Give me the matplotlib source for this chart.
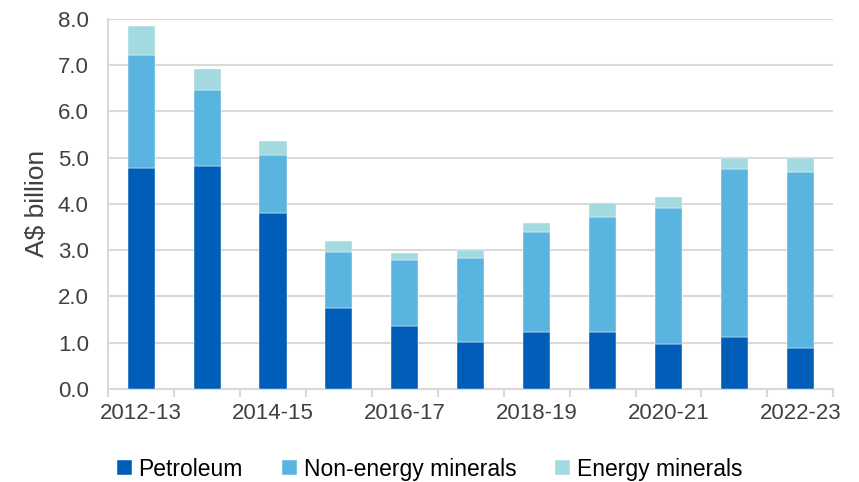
from matplotlib import pyplot as plt
import numpy as np

plt.rcParams['font.family'] = ['Liberation Sans', 'DejaVu Sans']

years = ['2012-13', '2013-14', '2014-15', '2015-16', '2016-17', '2017-18',
         '2018-19', '2019-20', '2020-21', '2021-22', '2022-23']
petroleum = [4.77, 4.82, 3.80, 1.75, 1.36, 1.01, 1.24, 1.24, 0.98, 1.13, 0.89]
non_energy = [2.45, 1.64, 1.25, 1.22, 1.43, 1.82, 2.16, 2.47, 2.93, 3.62, 3.79]
energy = [0.63, 0.45, 0.31, 0.23, 0.14, 0.17, 0.19, 0.31, 0.24, 0.25, 0.32]

c_pet = '#005EB8'
c_ne = '#5AB4E0'
c_en = '#A2DAE0'
txt = '#404040'
grid = '#D9D9D9'

fig = plt.figure(figsize=(8.59, 4.82), dpi=100)
ax = fig.add_axes([0.126, 0.193, 0.844, 0.768])

x = np.arange(len(years))
pet = np.array(petroleum)
ne = np.array(non_energy)
w = 0.41
ax.bar(x, pet, width=w, color=c_pet, label='Petroleum', edgecolor='white', linewidth=0.3, zorder=3)
ax.bar(x, ne, width=w, bottom=pet, color=c_ne, label='Non-energy minerals', edgecolor='white', linewidth=0.3, zorder=3)
ax.bar(x, energy, width=w, bottom=pet + ne, color=c_en, label='Energy minerals', edgecolor='white', linewidth=0.3, zorder=3)

ax.set_xlim(-0.5, len(years) - 0.5)
ax.set_ylim(0, 8)
ax.set_yticks(np.arange(0, 8.1, 1))
ax.set_yticklabels(['%.1f' % v for v in np.arange(0, 8.1, 1)])
ax.yaxis.grid(True, color=grid, linewidth=1.5, zorder=0)
ax.set_axisbelow(True)

ax.set_xticks(x[::2])
ax.set_xticklabels(years[::2])
ax.set_xticks(np.arange(-0.5, len(years), 1), minor=True)
ax.tick_params(axis='x', which='major', length=0, pad=10, labelsize=16, labelcolor=txt)
ax.tick_params(axis='x', which='minor', length=6, width=1.5, color=grid, direction='out')
ax.tick_params(axis='y', length=0, pad=14, labelsize=16, labelcolor=txt)

for s in ['top', 'right']:
    ax.spines[s].set_visible(False)
ax.spines['left'].set_color(grid)
ax.spines['left'].set_linewidth(1.5)
ax.spines['bottom'].set_color(grid)
ax.spines['bottom'].set_linewidth(1.5)

ax.set_ylabel('A$ billion', fontsize=19, color=txt, labelpad=6)

fig.legend(loc='lower center', ncol=3, frameon=False, fontsize=16.5,
           handlelength=0.65, handleheight=0.65, handletextpad=0.3,
           columnspacing=1.7, bbox_to_anchor=(0.5, -0.04), labelcolor='#000000')

plt.savefig('out.png', dpi=100)
